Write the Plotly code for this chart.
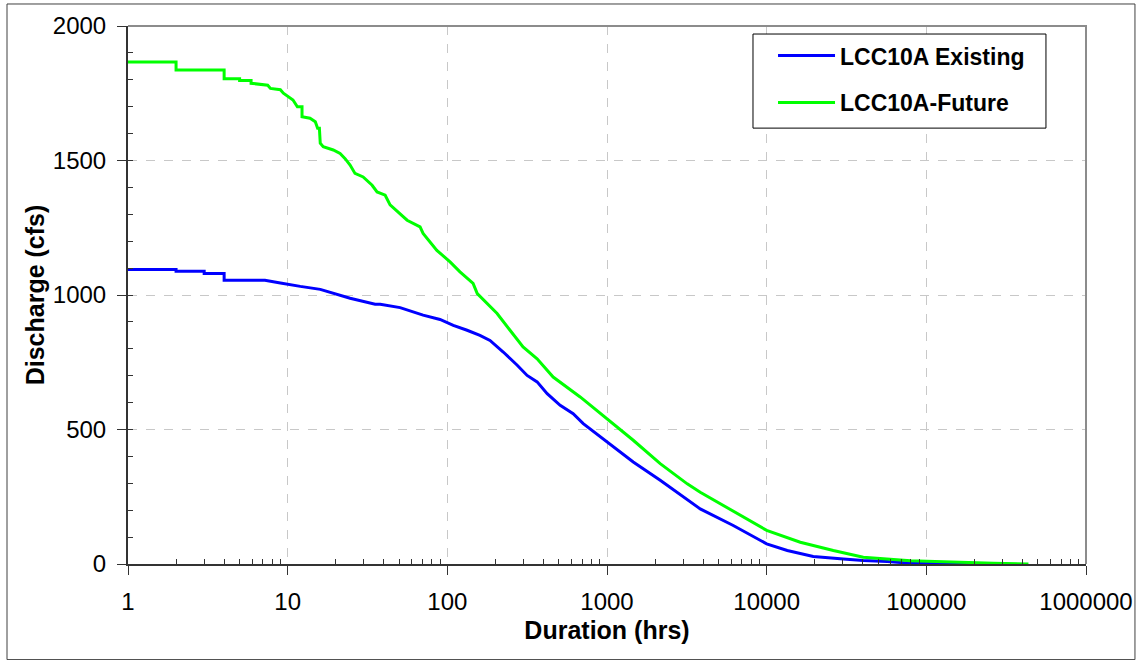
import plotly.graph_objects as go

# ---- data ----
future_hours = [1, 2, 2, 4, 4, 5.0, 5.0, 5.9, 5.9, 7.5, 7.8, 9.0, 9.4, 10.1, 10.8, 11.5,
                12.3, 12.3, 13.8, 14.9, 15.4, 15.8, 16.0, 16.7, 19.3, 21.3, 22.9, 24.6,
                26.4, 29.7, 33.8, 36.3, 40.8, 43.8, 50.6, 56, 67.5, 70.5, 86, 104, 120,
                145, 154, 205, 247, 298, 365, 460, 679, 1003, 1460, 2154, 3181, 3837,
                4628, 6176, 10000, 16240, 26150, 40300, 57000, 79400, 263000, 436000]
future_cfs = [1866, 1866, 1836, 1836, 1804, 1804, 1797, 1797, 1787, 1780, 1768, 1763, 1750,
              1737, 1725, 1700, 1700, 1663, 1657, 1644, 1620, 1620, 1564, 1551, 1539, 1526,
              1507, 1483, 1452, 1439, 1408, 1383, 1371, 1335, 1303, 1278, 1253, 1229, 1166,
              1123, 1086, 1043, 1005, 931, 869, 807, 763, 695, 621, 540, 460, 373, 298, 267,
              239, 199, 125, 81, 50, 25, 17, 12, 3, 0]

existing_hours = [1, 2, 2, 3, 3, 4, 4, 7.2, 9, 10, 12, 16, 19.8, 24.6, 35.3, 38, 50.6, 70.5,
                  90, 109, 133, 160, 185, 224, 274, 316, 365, 422, 509, 614, 710, 1003, 1460,
                  2154, 3228, 3837, 6176, 10000, 13460, 19580, 30200, 40300, 57000, 79400,
                  291000]
existing_cfs = [1095, 1095, 1088, 1088, 1080, 1080, 1055, 1055, 1045, 1040, 1032, 1021, 1006,
                988, 966, 966, 953, 925, 909, 887, 869, 850, 831, 788, 739, 701, 677, 633, 590,
                559, 522, 453, 379, 311, 239, 205, 143, 75, 50, 28, 19, 13, 9, 3, 0]

series_names = ["LCC10A Existing", "LCC10A-Future"]

x_tick_vals = [1, 10, 100, 1000, 10000, 100000, 1000000]
x_tick_text = ["1", "10", "100", "1000", "10000", "100000", "1000000"]
y_tick_vals = [0, 500, 1000, 1500, 2000]

FONT = "Arial, 'Liberation Sans', Helvetica, sans-serif"

fig = go.Figure()
fig.add_trace(go.Scatter(x=existing_hours, y=existing_cfs, mode="lines",
                         name=series_names[0], legendgroup="a",
                         line=dict(color="#0000FF", width=3)))
fig.add_trace(go.Scatter(x=future_hours, y=future_cfs, mode="lines",
                         name=series_names[1], legendgroup="b",
                         line=dict(color="#00FF00", width=3)))

minor_x = [m * 10 ** d for d in range(6) for m in range(2, 10)]

fig.update_xaxes(type="log", range=[0, 6], tickmode="array", tickvals=x_tick_vals,
                 ticktext=x_tick_text, ticks="outside", ticklen=9, tickwidth=1,
                 tickcolor="#333333", showline=True, linecolor="#333333", linewidth=2,
                 showgrid=True, gridcolor="#C8C8C8", griddash="dash", gridwidth=1,
                 zeroline=False, ticklabelstandoff=6,
                 minor=dict(tickmode="array", tickvals=minor_x, ticks="inside",
                            ticklen=5, tickcolor="#333333", showgrid=False),
                 tickfont=dict(family=FONT, size=24, color="black"),
                 title=dict(text="Duration (hrs)", standoff=8,
                            font=dict(family=FONT, size=25, color="black", weight="bold")))
fig.update_yaxes(range=[0, 2000], tickmode="array", tickvals=y_tick_vals,
                 ticks="outside", ticklen=9, tickwidth=1, tickcolor="#333333",
                 showline=True, linecolor="#333333", linewidth=2,
                 showgrid=True, gridcolor="#C8C8C8", griddash="dash", gridwidth=1,
                 zeroline=False, ticklabelstandoff=6,
                 minor=dict(dtick=100, ticks="inside", ticklen=5, tickcolor="#333333",
                            showgrid=False),
                 tickfont=dict(family=FONT, size=24, color="black"),
                 title=dict(text="Discharge (cfs)", standoff=1,
                            font=dict(family=FONT, size=25, color="black", weight="bold")))

fig.update_layout(
    width=1142, height=660,
    margin=dict(l=128, r=56, t=26, b=96, autoexpand=False),
    paper_bgcolor="white", plot_bgcolor="white",
    font=dict(family=FONT, color="black"),
    showlegend=True,
    legend=dict(x=0.6733, y=0.985, xanchor="left", yanchor="top",
                borderwidth=0, bgcolor="rgba(0,0,0,0)",
                font=dict(family=FONT, size=23, color="black", weight="bold"),
                traceorder="grouped", tracegroupgap=14, itemwidth=57),
    shapes=[
        dict(type="path", xref="paper", yref="paper", path="M 0 1 L 1 1 L 1 0",
             line=dict(color="#8C8C8C", width=2)),
        dict(type="rect", xref="paper", yref="paper", x0=0.6524, x1=0.9582,
             y0=0.8102, y1=0.9851, layer="above", fillcolor="white",
             line=dict(color="black", width=1)),
        dict(type="rect", xref="paper", yref="paper", x0=-0.1263, x1=1.0511,
             y0=-0.1777, y1=1.0409, line=dict(color="#404040", width=1)),
    ],
)

fig.write_html("out.html", config={"displayModeBar": False},
               post_script="document.body.style.margin='0px';")
